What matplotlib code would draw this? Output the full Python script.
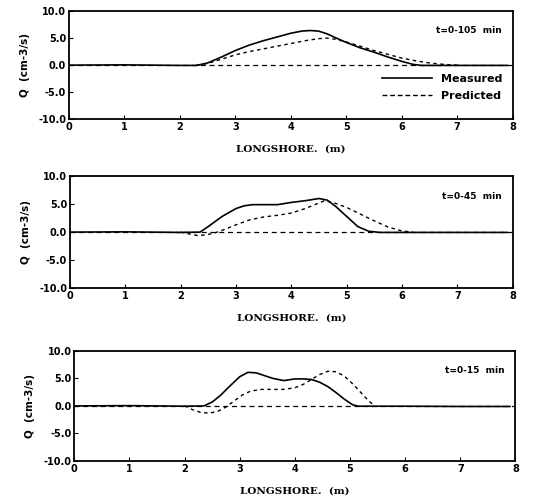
import matplotlib
matplotlib.use("Agg")
import matplotlib.pyplot as plt
import numpy as np

# ---- data ----
m1_x = [0, 1, 2, 2.3, 2.5, 2.75, 3.0, 3.25, 3.5, 3.75, 4.0, 4.2, 4.35, 4.5, 4.65, 4.8, 5.0, 5.25, 5.5, 5.75, 6.0, 6.2, 6.35, 6.6, 7.0, 7.9]
m1_y = [0, 0.05, -0.05, -0.05, 0.4, 1.5, 2.7, 3.7, 4.5, 5.2, 5.9, 6.3, 6.4, 6.3, 5.8, 5.1, 4.2, 3.2, 2.4, 1.5, 0.7, 0.15, -0.05, -0.05, -0.05, -0.05]
p1_x = [2.3, 2.5, 2.75, 3.0, 3.25, 3.5, 3.75, 4.0, 4.25, 4.5, 4.65, 4.8, 5.0, 5.25, 5.5, 5.75, 6.0, 6.25, 6.5, 6.75, 7.0]
p1_y = [0.0, 0.3, 1.1, 1.9, 2.5, 3.0, 3.5, 4.0, 4.5, 4.9, 5.0, 4.8, 4.3, 3.5, 2.7, 2.0, 1.3, 0.8, 0.4, 0.15, 0.0]

m2_x = [0, 1, 2, 2.35, 2.5, 2.75, 3.0, 3.15, 3.3, 3.5, 3.75, 4.0, 4.25, 4.5, 4.65, 4.8, 5.0, 5.2, 5.4, 5.6, 6.0, 7.0, 7.9]
m2_y = [0, 0.05, -0.05, 0.0, 1.0, 2.8, 4.2, 4.7, 4.9, 4.9, 4.9, 5.3, 5.6, 6.0, 5.7, 4.6, 2.8, 1.0, 0.15, -0.05, -0.05, -0.05, -0.05]
p2_x = [2.0, 2.15, 2.3, 2.45, 2.6, 2.8, 3.0, 3.25, 3.5, 3.75, 4.0, 4.25, 4.5, 4.6, 4.75, 5.0, 5.25, 5.5, 5.75, 6.0, 6.2]
p2_y = [0.0, -0.3, -0.6, -0.5, -0.2, 0.5, 1.3, 2.2, 2.7, 3.0, 3.4, 4.2, 5.2, 5.6, 5.3, 4.4, 3.2, 2.0, 0.9, 0.2, 0.0]

m3_x = [0, 1, 2, 2.35, 2.5, 2.65, 2.8, 3.0, 3.15, 3.3, 3.45, 3.6, 3.8, 4.0, 4.15, 4.3, 4.45, 4.6, 4.75, 4.9, 5.05, 5.15, 6.0, 7.0, 7.9]
m3_y = [0, 0.05, -0.05, 0.0, 0.7, 1.9, 3.4, 5.3, 6.1, 6.0, 5.5, 5.0, 4.6, 4.9, 4.9, 4.8, 4.3, 3.5, 2.4, 1.2, 0.2, -0.05, -0.05, -0.1, -0.1]
p3_x = [2.0, 2.15, 2.3, 2.45, 2.6, 2.75, 2.9, 3.05, 3.2, 3.4, 3.6, 3.8, 4.0, 4.15, 4.3, 4.45, 4.6, 4.75, 4.9, 5.05, 5.2, 5.35, 5.45]
p3_y = [0.0, -0.7, -1.2, -1.3, -1.0, -0.2, 0.9, 2.0, 2.7, 3.0, 3.0, 3.0, 3.3, 3.9, 4.8, 5.7, 6.3, 6.2, 5.4, 4.0, 2.4, 0.8, 0.0]

labels = ["t=0-105  min", "t=0-45  min", "t=0-15  min"]
xticks = [0, 1, 2, 3, 4, 5, 6, 7, 8]
yticks = [-10, -5, 0, 5, 10]
yticklabels = ["-10.0", "-5.0", "0.0", "5.0", "10.0"]

fig = plt.figure(figsize=(5.42, 5.03), dpi=100)
positions = [
    [0.127, 0.763, 0.819, 0.215],
    [0.129, 0.427, 0.817, 0.223],
    [0.137, 0.0835, 0.814, 0.219],
]
series = [(m1_x, m1_y, p1_x, p1_y), (m2_x, m2_y, p2_x, p2_y), (m3_x, m3_y, p3_x, p3_y)]

tfont = dict(fontsize=7, fontweight="bold", family="DejaVu Sans")
for i, (pos, (mx, my, px, py)) in enumerate(zip(positions, series)):
    ax = fig.add_axes(pos)
    ax.axhline(0, color="black", lw=0.9, ls=(0, (4, 3)))
    lm, = ax.plot(mx, my, color="black", lw=1.2, ls="-")
    lp, = ax.plot(px, py, color="black", lw=1.0, ls=(0, (2.5, 2.5)))
    ax.set_xlim(0, 8)
    ax.set_ylim(-10, 10)
    ax.set_xticks(xticks)
    ax.set_xticklabels([str(t) for t in xticks], **tfont)
    ax.set_yticks(yticks)
    ax.set_yticklabels(yticklabels, **tfont)
    ax.tick_params(direction="in", length=3, width=0.8, pad=2)
    for s in ax.spines.values():
        s.set_linewidth(1.3)
    ax.set_xlabel("LONGSHORE.  (m)", fontsize=7.5, fontweight="bold", family="DejaVu Serif", labelpad=9)
    ax.set_ylabel("Q  (cm-3/s)", fontsize=7.5, fontweight="bold", family="DejaVu Sans", labelpad=6)
    ax.text(0.975, 0.82, labels[i], transform=ax.transAxes, ha="right", va="center",
            fontsize=6.5, fontweight="bold", family="DejaVu Sans")
    if i == 0:
        hm, = ax.plot([], [], color="black", lw=1.2, ls="-")
        hp, = ax.plot([], [], color="black", lw=1.0, ls=(0, (3.5, 2)))
        ax.legend([hm, hp], ["Measured", "Predicted"], loc="lower right", frameon=False, handlelength=4.5,
                  prop=dict(size=8, weight="bold"), bbox_to_anchor=(1.0, 0.08), labelspacing=0.6)

fig.savefig("out.png", dpi=100)
